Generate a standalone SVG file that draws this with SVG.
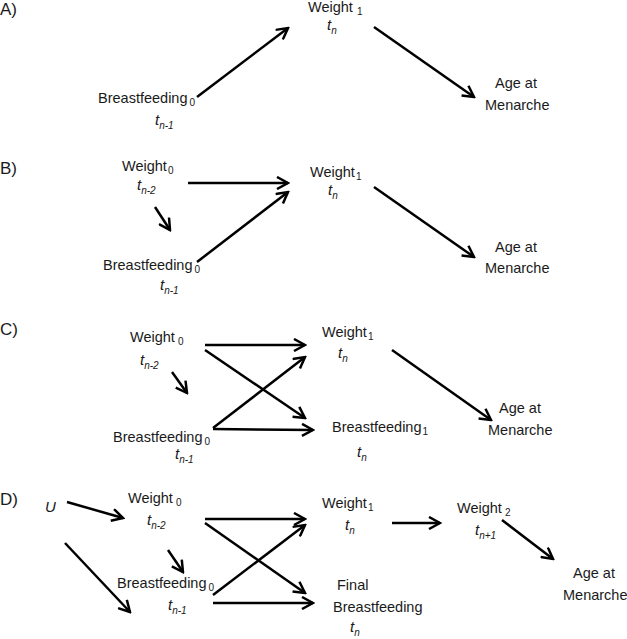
<svg xmlns="http://www.w3.org/2000/svg" width="627" height="639" viewBox="0 0 627 639">
<defs>
<marker id="ah" viewBox="0 0 14 14" refX="12" refY="7" markerWidth="14" markerHeight="14" markerUnits="userSpaceOnUse" orient="auto">
<path d="M1,1 L12,7 L1,13" fill="none" stroke="#000" stroke-width="2.5"/>
</marker>
<style>
text{font-family:"Liberation Sans",Arial,sans-serif;font-size:14.5px;fill:#1a1a1a}
.lbl{font-size:17px}
.t{font-style:italic;font-size:15px}
.s{font-size:10px}
.si{font-size:10px;font-style:italic}
#connectors line{stroke:#000;stroke-width:2.5;marker-end:url(#ah)}
</style>
</defs>
<rect width="627" height="639" fill="#fff"/>

<g id="panel-labels">
<text class="lbl" x="0" y="15">A)</text>
<text class="lbl" x="0" y="174">B)</text>
<text class="lbl" x="0" y="335">C)</text>
<text class="lbl" x="0" y="505">D)</text>
</g>

<!-- Panel A -->
<g id="A-bf0"><text x="98" y="103">Breastfeeding<tspan class="s" dx="2" dy="3">0</tspan></text><text class="t" x="155" y="125">t<tspan class="si" dy="4">n-1</tspan></text></g>
<g id="A-w1"><text x="308" y="12">Weight<tspan class="s" dx="4" dy="3">1</tspan></text><text class="t" x="327" y="30">t<tspan class="si" dy="4">n</tspan></text></g>
<g id="A-age"><text x="495" y="88">Age at</text><text x="485" y="110">Menarche</text></g>

<!-- Panel B -->
<g id="B-w0"><text x="122" y="171">Weight<tspan class="s" dx="1" dy="3">0</tspan></text><text class="t" x="137" y="190">t<tspan class="si" dy="4">n-2</tspan></text></g>
<g id="B-bf0"><text x="103" y="270">Breastfeeding<tspan class="s" dx="2" dy="3">0</tspan></text><text class="t" x="160" y="290">t<tspan class="si" dy="4">n-1</tspan></text></g>
<g id="B-w1"><text x="310" y="177">Weight<tspan class="s" dx="1" dy="3">1</tspan></text><text class="t" x="328" y="195">t<tspan class="si" dy="4">n</tspan></text></g>
<g id="B-age"><text x="495" y="252">Age at</text><text x="485" y="273">Menarche</text></g>

<!-- Panel C -->
<g id="C-w0"><text x="130" y="342">Weight<tspan class="s" dx="3" dy="3">0</tspan></text><text class="t" x="140" y="365">t<tspan class="si" dy="4">n-2</tspan></text></g>
<g id="C-bf0"><text x="113" y="442">Breastfeeding<tspan class="s" dx="2" dy="3">0</tspan></text><text class="t" x="175" y="459">t<tspan class="si" dy="4">n-1</tspan></text></g>
<g id="C-w1"><text x="322" y="337">Weight<tspan class="s" dx="1" dy="3">1</tspan></text><text class="t" x="338" y="358">t<tspan class="si" dy="4">n</tspan></text></g>
<g id="C-bf1"><text x="332" y="432">Breastfeeding<tspan class="s" dx="1" dy="3">1</tspan></text><text class="t" x="357" y="457">t<tspan class="si" dy="4">n</tspan></text></g>
<g id="C-age"><text x="499" y="413">Age at</text><text x="488" y="435">Menarche</text></g>

<!-- Panel D -->
<g id="D-u"><text class="t" x="45" y="512">U</text></g>
<g id="D-w0"><text x="128" y="503">Weight<tspan class="s" dx="3" dy="3">0</tspan></text><text class="t" x="147" y="525">t<tspan class="si" dy="4">n-2</tspan></text></g>
<g id="D-bf0"><text x="117" y="588">Breastfeeding<tspan class="s" dx="2" dy="3">0</tspan></text><text class="t" x="168" y="610">t<tspan class="si" dy="4">n-1</tspan></text></g>
<g id="D-w1"><text x="322" y="508">Weight<tspan class="s" dx="1" dy="3">1</tspan></text><text class="t" x="345" y="530">t<tspan class="si" dy="4">n</tspan></text></g>
<g id="D-fbf"><text x="337" y="590">Final</text><text x="333" y="612">Breastfeeding</text><text class="t" x="350" y="632">t<tspan class="si" dy="4">n</tspan></text></g>
<g id="D-w2"><text x="457" y="513">Weight<tspan class="s" dx="3" dy="3">2</tspan></text><text class="t" x="475" y="535">t<tspan class="si" dy="4">n+1</tspan></text></g>
<g id="D-age"><text x="573" y="578">Age at</text><text x="563" y="600">Menarche</text></g>

<g id="connectors">
<line x1="197" y1="97" x2="288" y2="28"/>
<line x1="374" y1="27" x2="474" y2="97"/>

<line x1="188" y1="183" x2="288" y2="183"/>
<line x1="155" y1="207" x2="170" y2="230"/>
<line x1="197" y1="262" x2="288" y2="192"/>
<line x1="374" y1="187" x2="474" y2="257"/>

<line x1="205" y1="345" x2="305" y2="345"/>
<line x1="205" y1="350" x2="305" y2="418"/>
<line x1="213" y1="428" x2="305" y2="357"/>
<line x1="213" y1="429" x2="313" y2="430"/>
<line x1="172" y1="372" x2="187" y2="393"/>
<line x1="392" y1="350" x2="491" y2="420"/>

<line x1="67" y1="502" x2="123" y2="518"/>
<line x1="65" y1="543" x2="130" y2="612"/>
<line x1="168" y1="550" x2="183" y2="572"/>
<line x1="205" y1="519" x2="305" y2="519"/>
<line x1="205" y1="523" x2="305" y2="593"/>
<line x1="213" y1="595" x2="305" y2="525"/>
<line x1="213" y1="603" x2="313" y2="603"/>
<line x1="392" y1="523" x2="440" y2="523"/>
<line x1="502" y1="520" x2="553" y2="559"/>
</g>
</svg>
